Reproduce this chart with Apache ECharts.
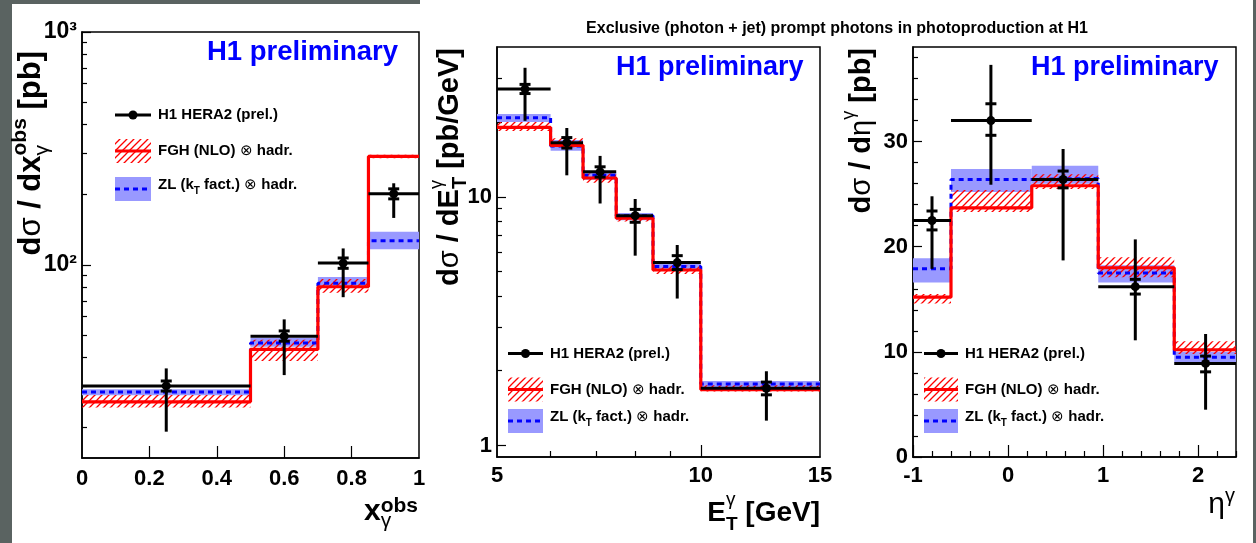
<!DOCTYPE html>
<html>
<head>
<meta charset="utf-8">
<title>Exclusive (photon + jet) prompt photons in photoproduction at H1</title>
<script src="https://cdn.jsdelivr.net/npm/echarts@6/dist/echarts.min.js"></script>
<style>
  html, body { margin: 0; padding: 0; background: #ffffff; }
  #chart { width: 1256px; height: 543px; }
</style>
</head>
<body>
<div id="chart"></div>
<script>
// ---------- x_gamma^obs distribution (log y) ----------
const xgEdges   = [0, 0.5, 0.7, 0.85, 1.0];
const xgCenters = [0.25, 0.6, 0.775, 0.925];
const xgData    = [30.2, 49.4, 101.7, 202];
const xgTotLo   = [19.2, 33.6, 72.6, 159];
const xgTotHi   = [35.9, 58.3, 117.6, 224];
const xgStatLo  = [28.7, 47.0, 96.6, 192];
const xgStatHi  = [31.7, 52.0, 107, 212];
const xgFgh     = [25.8, 43.3, 80.5, 292];
const xgFghLo   = [24.4, 38.6, 75.9, 287];
const xgFghHi   = [27.6, 47.7, 87.0, 297];
const xgZl      = [28.4, 46.1, 83.3, 127];
const xgZlLo    = [27.5, 44.5, 81.3, 116.7];
const xgZlHi    = [29.2, 48.6, 88.6, 138.7];

// ---------- E_T^gamma distribution (log x, log y) ----------
const etEdges   = [5, 6, 6.7, 7.5, 8.5, 10, 15];
const etCenters = [5.5, 6.34, 7.1, 8.0, 9.23, 12.5];
const etData    = [27.1, 16.5, 12.6, 8.4, 5.44, 1.70];
const etTotLo   = [20.2, 12.2, 9.4, 5.8, 3.9, 1.26];
const etTotHi   = [33.0, 18.9, 14.6, 9.8, 6.4, 1.99];
const etStatLo  = [26.0, 15.7, 12.0, 7.9, 5.1, 1.6];
const etStatHi  = [28.3, 17.3, 13.2, 8.9, 5.8, 1.8];
const etFgh     = [19.0, 16.1, 11.9, 8.2, 5.08, 1.68];
const etFghLo   = [18.4, 15.8, 11.4, 7.95, 4.9, 1.65];
const etFghHi   = [20.0, 17.2, 12.4, 8.45, 5.3, 1.75];
const etZl      = [20.8, 16.0, 12.2, 8.4, 5.25, 1.77];
const etZlLo    = [20.0, 15.3, 11.7, 8.05, 5.13, 1.70];
const etZlHi    = [21.5, 16.9, 12.55, 8.6, 5.4, 1.82];

// ---------- eta^gamma distribution (linear) ----------
const etaEdges   = [-1, -0.6, 0.25, 0.95, 1.75, 2.4];
const etaCenters = [-0.8, -0.18, 0.58, 1.34, 2.08];
const etaData    = [22.5, 32.0, 26.4, 16.2, 8.9];
const etaTotLo   = [17.9, 25.9, 18.7, 11.1, 4.5];
const etaTotHi   = [24.8, 37.3, 29.3, 20.7, 11.7];
const etaStatLo  = [21.6, 30.6, 25.6, 15.5, 8.1];
const etaStatHi  = [23.4, 33.6, 27.2, 16.9, 9.6];
const etaFgh     = [15.2, 23.7, 25.8, 18.0, 10.2];
const etaFghLo   = [14.6, 23.3, 25.5, 17.1, 9.8];
const etaFghHi   = [15.5, 25.4, 26.9, 19.0, 11.0];
const etaZl      = [17.9, 26.4, 26.5, 17.5, 9.5];
const etaZlLo    = [16.6, 25.2, 26.0, 16.6, 9.0];
const etaZlHi    = [18.9, 27.4, 27.7, 18.25, 10.0];

// ---------- ticks and tick labels ----------
const xgXLabels  = [0, 0.2, 0.4, 0.6, 0.8, 1];
const xgXMajor   = [0.2, 0.4, 0.6, 0.8];
const xgYMajor   = [100, 1000];
const xgYText    = ['10\u00B2', '10\u00B3'];
const xgYMinor   = [20, 30, 40, 50, 60, 70, 80, 90, 200, 300, 400, 500, 600, 700, 800, 900];

const etXLabels  = [5, 10, 15];
const etXMajor   = [10];
const etXMinor   = [6, 7, 8, 9];
const etYLabels  = [1, 10];
const etYMajor   = [1, 10];
const etYMinor   = [2, 3, 4, 5, 6, 7, 8, 9, 20, 30];

const etaXLabels = [-1, 0, 1, 2];
const etaXMajor  = [-1, 0, 1, 2];
const etaXMinor  = [-0.8, -0.6, -0.4, -0.2, 0.2, 0.4, 0.6, 0.8, 1.2, 1.4, 1.6, 1.8, 2.2, 2.4];
const etaYLabels = [0, 10, 20, 30];
const etaYMajor  = [0, 10, 20, 30];
const etaYMinor  = [2, 4, 6, 8, 12, 14, 16, 18, 22, 24, 26, 28, 32, 34, 36, 38];

// ---------- legend / title texts ----------
const titleText   = 'Exclusive (photon + jet) prompt photons in photoproduction at H1';
const labelText   = 'H1 preliminary';
const legData     = 'H1 HERA2 (prel.)';

// ---------- styling helpers ----------
const FONT = '"Liberation Sans", Arial, Helvetica, sans-serif';
const RED = '#ff0000', BLUE = '#0000ff', BAND = '#9999ff', BLACK = '#000000';

const measureCtx = document.createElement('canvas').getContext('2d');
function fontStr(size, bold) { return (bold ? 'bold ' : '') + size + 'px ' + FONT; }
function textWidth(t, size, bold) { measureCtx.font = fontStr(size, bold); return measureCtx.measureText(t).width; }

// Diagonal "////" hatch used for the NLO uncertainty band
function makeHatch(color, step, width) {
  const c = document.createElement('canvas');
  c.width = step; c.height = step;
  const g = c.getContext('2d');
  g.strokeStyle = color; g.lineWidth = width;
  g.beginPath();
  g.moveTo(-1, step + 1); g.lineTo(step + 1, -1);
  g.moveTo(-2, 2); g.lineTo(2, -2);
  g.moveTo(step - 2, step + 2); g.lineTo(step + 2, step - 2);
  g.stroke();
  return c;
}
const hatchFill = { image: makeHatch(RED, 7, 1.3), repeat: 'repeat' };

// Lays out text made of pieces (with super/subscripts), horizontally or reading upwards
function composeText(pieces, ax, ay, opts) {
  let total = 0;
  const items = [];
  pieces.forEach(p => {
    if (p.stack) {
      const w = Math.max.apply(null, p.stack.map(s => textWidth(s.t, s.size, s.bold)));
      p.stack.forEach(s => items.push({ s: s, adv: total }));
      total += w;
    } else {
      items.push({ s: p, adv: total });
      total += textWidth(p.t, p.size, p.bold);
    }
  });
  const start = opts.align === 'right' ? -total : (opts.align === 'center' ? -total / 2 : 0);
  return items.map(it => {
    const a = start + it.adv, d = it.s.dy || 0;
    const x = opts.vertical ? ax - d : ax + a;
    const y = opts.vertical ? ay - a : ay - d;
    return {
      type: 'text', x: x, y: y, rotation: opts.vertical ? Math.PI / 2 : 0, silent: true, z: 20,
      style: {
        text: it.s.t, font: fontStr(it.s.size, it.s.bold), fill: it.s.color || opts.color || BLACK,
        textAlign: 'left', textVerticalAlign: 'middle', align: 'left', verticalAlign: 'middle'
      }
    };
  });
}

// ---------- data builders ----------
function bandItems(edges, lo, hi) { return lo.map((v, i) => [edges[i], edges[i + 1], v, hi[i]]); }
function stepItems(edges, vals) { return edges.map((e, i) => [e, vals[Math.min(i, vals.length - 1)]]); }
function pointItems(edges, xc, y, tlo, thi, slo, shi) {
  return y.map((v, i) => [edges[i], edges[i + 1], xc[i], v, tlo[i], thi[i], slo[i], shi[i]]);
}

function bandRenderer(fill) {
  return function (params, api) {
    const a = api.coord([api.value(0), api.value(3)]);
    const b = api.coord([api.value(1), api.value(2)]);
    const cs = params.coordSys;
    const rect = echarts.graphic.clipRectByRect(
      { x: a[0], y: a[1], width: b[0] - a[0], height: b[1] - a[1] },
      { x: cs.x, y: cs.y, width: cs.width, height: cs.height });
    return rect && { type: 'rect', shape: rect, style: { fill: fill } };
  };
}

function renderPoint(params, api) {
  const xc = api.value(2), y = api.value(3);
  const l = api.coord([api.value(0), y]), r = api.coord([api.value(1), y]);
  const c = api.coord([xc, y]);
  const tl = api.coord([xc, api.value(4)]), th = api.coord([xc, api.value(5)]);
  const sl = api.coord([xc, api.value(6)]), sh = api.coord([xc, api.value(7)]);
  const st = { stroke: BLACK, lineWidth: 3, lineCap: 'butt' };
  const hw = 5.5;
  return {
    type: 'group', children: [
      { type: 'line', shape: { x1: l[0], y1: l[1], x2: r[0], y2: r[1] }, style: st },
      { type: 'line', shape: { x1: c[0], y1: tl[1], x2: c[0], y2: th[1] }, style: st },
      { type: 'line', shape: { x1: c[0] - hw, y1: sl[1], x2: c[0] + hw, y2: sl[1] }, style: st },
      { type: 'line', shape: { x1: c[0] - hw, y1: sh[1], x2: c[0] + hw, y2: sh[1] }, style: st },
      { type: 'circle', shape: { cx: c[0], cy: c[1], r: 4.5 }, style: { fill: BLACK } }
    ]
  };
}

function panelSeries(xi, yi, d) {
  return [
    { type: 'custom', xAxisIndex: xi, yAxisIndex: yi, z: 2, renderItem: bandRenderer(BAND),
      encode: { x: [0, 1], y: [2, 3] }, data: bandItems(d.edges, d.zlLo, d.zlHi) },
    { type: 'custom', xAxisIndex: xi, yAxisIndex: yi, z: 3, renderItem: bandRenderer(hatchFill),
      encode: { x: [0, 1], y: [2, 3] }, data: bandItems(d.edges, d.fghLo, d.fghHi) },
    { type: 'line', xAxisIndex: xi, yAxisIndex: yi, z: 4, step: 'end', symbol: 'none',
      lineStyle: { color: BLUE, width: 3, type: [5, 4], cap: 'butt' }, data: stepItems(d.edges, d.zl) },
    { type: 'line', xAxisIndex: xi, yAxisIndex: yi, z: 5, step: 'end', symbol: 'none',
      lineStyle: { color: RED, width: 3.2, cap: 'butt' }, data: stepItems(d.edges, d.fgh) },
    { type: 'custom', xAxisIndex: xi, yAxisIndex: yi, z: 6, renderItem: renderPoint,
      encode: { x: [0, 1, 2], y: [3, 4, 5] },
      data: pointItems(d.edges, d.centers, d.data, d.totLo, d.totHi, d.statLo, d.statHi) }
  ];
}

// ---------- axes ----------
function mainAxis(o) {
  const ax = {
    gridIndex: o.grid, type: o.type, min: o.min, max: o.max, position: o.position,
    splitLine: { show: false },
    axisLine: { show: true, onZero: false, lineStyle: { color: BLACK, width: 1.5 } },
    axisTick: { show: true, inside: true, length: o.tickLen, customValues: o.ticks,
      lineStyle: { color: BLACK, width: 1.2 } },
    axisLabel: { show: true, customValues: o.labels, formatter: o.fmt, margin: o.margin,
      color: BLACK, fontFamily: FONT, fontWeight: 'bold', fontSize: o.fontSize || 22 }
  };
  if (o.type === 'log') ax.logBase = 10;
  return ax;
}
function minorAxis(o) {
  const ax = {
    gridIndex: o.grid, type: o.type, min: o.min, max: o.max, position: o.position,
    splitLine: { show: false }, axisLine: { show: false, onZero: false }, axisLabel: { show: false },
    axisTick: { show: true, inside: true, length: o.tickLen, customValues: o.ticks,
      lineStyle: { color: BLACK, width: 1.2 } }
  };
  if (o.type === 'log') ax.logBase = 10;
  return ax;
}
const plain = v => String(Math.round(v * 100) / 100);

const xAxes = [
  mainAxis({ grid: 0, type: 'value', min: 0, max: 1, position: 'bottom', tickLen: 12, ticks: xgXMajor, labels: xgXLabels, fmt: plain, margin: 10 }),
  mainAxis({ grid: 1, type: 'log', min: 5, max: 15, position: 'bottom', tickLen: 12, ticks: etXMajor, labels: etXLabels, fmt: plain, margin: 8 }),
  minorAxis({ grid: 1, type: 'log', min: 5, max: 15, position: 'bottom', tickLen: 6, ticks: etXMinor }),
  mainAxis({ grid: 2, type: 'value', min: -1, max: 2.4, position: 'bottom', tickLen: 12, ticks: etaXMajor, labels: etaXLabels, fmt: plain, margin: 8 }),
  minorAxis({ grid: 2, type: 'value', min: -1, max: 2.4, position: 'bottom', tickLen: 6, ticks: etaXMinor })
];
const yAxes = [
  mainAxis({ grid: 0, type: 'log', min: 14.8, max: 1000, position: 'left', tickLen: 9, ticks: xgYMajor, labels: xgYMajor,
    fmt: v => { const i = xgYMajor.findIndex(m => Math.abs(m - v) < 1e-6 * m); return i < 0 ? '' : xgYText[i]; },
    margin: 5, fontSize: 23 }),
  minorAxis({ grid: 0, type: 'log', min: 14.8, max: 1000, position: 'left', tickLen: 5, ticks: xgYMinor }),
  mainAxis({ grid: 1, type: 'log', min: 0.9, max: 40, position: 'left', tickLen: 9, ticks: etYMajor, labels: etYLabels, fmt: plain, margin: 5 }),
  minorAxis({ grid: 1, type: 'log', min: 0.9, max: 40, position: 'left', tickLen: 5, ticks: etYMinor }),
  mainAxis({ grid: 2, type: 'value', min: 0, max: 39, position: 'left', tickLen: 9, ticks: etaYMajor, labels: etaYLabels, fmt: plain, margin: 5 }),
  minorAxis({ grid: 2, type: 'value', min: 0, max: 39, position: 'left', tickLen: 5, ticks: etaYMinor })
];

const gridBase = { show: true, borderColor: BLACK, borderWidth: 1.5, backgroundColor: 'transparent',
  containLabel: false, outerBoundsMode: 'none' };
const grids = [
  Object.assign({ left: 82, top: 32, width: 337, height: 426 }, gridBase),
  Object.assign({ left: 497, top: 47, width: 323, height: 410 }, gridBase),
  Object.assign({ left: 913, top: 47, width: 323, height: 410 }, gridBase)
];

const series = [].concat(
  panelSeries(0, 0, { edges: xgEdges, centers: xgCenters, data: xgData, totLo: xgTotLo, totHi: xgTotHi,
    statLo: xgStatLo, statHi: xgStatHi, fgh: xgFgh, fghLo: xgFghLo, fghHi: xgFghHi, zl: xgZl, zlLo: xgZlLo, zlHi: xgZlHi }),
  panelSeries(1, 2, { edges: etEdges, centers: etCenters, data: etData, totLo: etTotLo, totHi: etTotHi,
    statLo: etStatLo, statHi: etStatHi, fgh: etFgh, fghLo: etFghLo, fghHi: etFghHi, zl: etZl, zlLo: etZlLo, zlHi: etZlHi }),
  panelSeries(3, 4, { edges: etaEdges, centers: etaCenters, data: etaData, totLo: etaTotLo, totHi: etaTotHi,
    statLo: etaStatLo, statHi: etaStatHi, fgh: etaFgh, fghLo: etaFghLo, fghHi: etaFghHi, zl: etaZl, zlLo: etaZlLo, zlHi: etaZlHi })
);

// ---------- legends ----------
function legendBlock(x0, x1, tx, y1, y2, y3) {
  const mid = (x0 + x1) / 2;
  const els = [
    { type: 'line', z: 15, silent: true, shape: { x1: x0, y1: y1, x2: x1, y2: y1 }, style: { stroke: BLACK, lineWidth: 3 } },
    { type: 'circle', z: 15, silent: true, shape: { cx: mid, cy: y1, r: 4.5 }, style: { fill: BLACK } },
    { type: 'rect', z: 15, silent: true, shape: { x: x0, y: y2 - 12, width: x1 - x0, height: 24 }, style: { fill: hatchFill } },
    { type: 'line', z: 15, silent: true, shape: { x1: x0, y1: y2, x2: x1, y2: y2 }, style: { stroke: RED, lineWidth: 3.2 } },
    { type: 'rect', z: 15, silent: true, shape: { x: x0, y: y3 - 12, width: x1 - x0, height: 24 }, style: { fill: BAND } },
    { type: 'line', z: 15, silent: true, shape: { x1: x0, y1: y3, x2: x1, y2: y3 }, style: { stroke: BLUE, lineWidth: 3, lineDash: [5, 4] } }
  ];
  return els
    .concat(composeText([{ t: legData, size: 15, bold: true }], tx, y1, { align: 'left' }))
    .concat(composeText([{ t: 'FGH (NLO) ', size: 15, bold: true }, { t: '\u2297', size: 15, bold: false },
      { t: ' hadr.', size: 15, bold: true }], tx, y2, { align: 'left' }))
    .concat(composeText([{ t: 'ZL (k', size: 15, bold: true }, { t: 'T', size: 10, bold: true, dy: -6 },
      { t: ' fact.) ', size: 15, bold: true }, { t: '\u2297', size: 15, bold: false },
      { t: ' hadr.', size: 15, bold: true }], tx, y3 - 4, { align: 'left' }));
}

// ---------- axis titles ----------
const T = 29, S = 20;
const titles = [].concat(
  // d sigma / d x_gamma^obs [pb]
  composeText([{ t: 'd', size: 31, bold: true }, { t: '\u03C3', size: 31, bold: false }, { t: ' / dx', size: 31, bold: true },
    { stack: [{ t: 'obs', size: 21, bold: true, dy: 11 }, { t: '\u03B3', size: 21, bold: false, dy: -10.5 }] },
    { t: ' [pb]', size: 31, bold: true }], 31.5, 51, { vertical: true, align: 'right' }),
  composeText([{ t: 'x', size: 30, bold: true },
    { stack: [{ t: 'obs', size: 21, bold: true, dy: 6 }, { t: '\u03B3', size: 21, bold: false, dy: -9 }] }],
    418, 512, { align: 'right' }),
  // d sigma / d E_T^gamma [pb/GeV]
  composeText([{ t: 'd', size: T, bold: true }, { t: '\u03C3', size: T, bold: false }, { t: ' / dE', size: T, bold: true },
    { stack: [{ t: '\u03B3', size: 18, bold: false, dy: 13 }, { t: 'T', size: S, bold: true, dy: -10 }] },
    { t: ' [pb/GeV]', size: T, bold: true }], 450, 48, { vertical: true, align: 'right' }),
  composeText([{ t: 'E', size: 28, bold: true },
    { stack: [{ t: '\u03B3', size: 19, bold: false, dy: 13 }, { t: 'T', size: 19, bold: true, dy: -12 }] },
    { t: ' [GeV]', size: 28, bold: true }], 820, 513, { align: 'right' }),
  // d sigma / d eta^gamma [pb]
  composeText([{ t: 'd', size: T, bold: true }, { t: '\u03C3', size: T, bold: false }, { t: ' / d', size: T, bold: true },
    { t: '\u03B7', size: T, bold: false }, { t: '\u03B3', size: 18, bold: false, dy: 13 },
    { t: ' [pb]', size: T, bold: true }], 862, 48, { vertical: true, align: 'right' }),
  composeText([{ t: '\u03B7', size: 30, bold: false }, { t: '\u03B3', size: 20, bold: false, dy: 9 }],
    1235, 505, { align: 'right' })
);

const prelim = [].concat(
  composeText([{ t: labelText, size: 27.5, bold: true, color: BLUE }], 207, 52.5, { align: 'left' }),
  composeText([{ t: labelText, size: 27, bold: true, color: BLUE }], 616, 67.5, { align: 'left' }),
  composeText([{ t: labelText, size: 27, bold: true, color: BLUE }], 1031, 67.5, { align: 'left' })
);

const frameBits = [
  { type: 'rect', z: 0, silent: true, shape: { x: 0, y: 0, width: 12, height: 543 }, style: { fill: '#5a6361' } },
  { type: 'rect', z: 0, silent: true, shape: { x: 0, y: 0, width: 420, height: 4 }, style: { fill: '#5a6361' } },
  { type: 'rect', z: 0, silent: true, shape: { x: 1253, y: 0, width: 3, height: 543 }, style: { fill: '#5a6361' } }
];

const graphics = [].concat(
  frameBits,
  legendBlock(115, 151, 158, 115, 151, 189),
  legendBlock(508, 543, 550, 353.5, 389.5, 421),
  legendBlock(924, 958, 965, 353.5, 389.5, 421),
  titles,
  prelim
);

const chart = echarts.init(document.getElementById('chart'), null, { renderer: 'canvas' });
chart.setOption({
  animation: false,
  backgroundColor: '#ffffff',
  title: {
    text: titleText, left: 837, top: 21, textAlign: 'center', padding: 0,
    textStyle: { fontFamily: FONT, fontSize: 16, fontWeight: 'bold', color: BLACK }
  },
  grid: grids,
  xAxis: xAxes,
  yAxis: yAxes,
  series: series,
  graphic: { elements: graphics }
});
</script>
</body>
</html>
